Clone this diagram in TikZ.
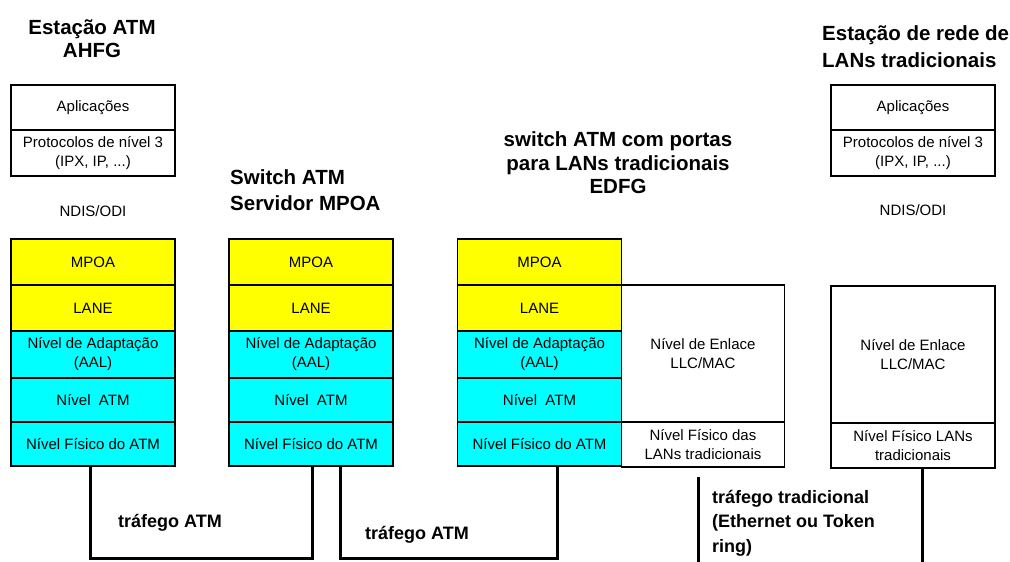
\documentclass[tikz,border=0pt]{standalone}
\usepackage{fontspec}
\setmainfont{Liberation Sans}
\usetikzlibrary{positioning}

\definecolor{amarelo}{RGB}{255,255,0}
\definecolor{ciano}{RGB}{0,255,255}

\tikzset{
  camada/.style={draw, line width=1.1pt, outer sep=0pt, inner sep=0pt,
    minimum width=164, align=center, font=\fontsize{15}{19}\selectfont},
  titulo/.style={inner sep=0pt, font=\bfseries\fontsize{20.5}{23.5}\selectfont},
  rotulo/.style={inner sep=0pt, font=\fontsize{15}{19}\selectfont},
  trafego/.style={line width=3pt},
  trafegotxt/.style={inner sep=0pt, align=left, font=\bfseries\fontsize{18}{24.5}\selectfont}
}

\begin{document}
\begin{tikzpicture}[x=1pt, y=-1pt]

      \useasboundingbox (0,0) rectangle (1010,562);

      % Estacao ATM
      \node[titulo, align=center] (tituloA) at (92,38.5) {Estação ATM\\AHFG};
      \node[camada, minimum height=45, anchor=north] (aplA) at (93,85) {Aplicações};
      \node[camada, minimum height=46, below=0pt of aplA] (protA) {Protocolos de nível 3\\(IPX, IP, ...)};
      \node[rotulo] (ndisA) at (93,211) {NDIS/ODI};
      \node[camada, fill=amarelo, minimum height=46, anchor=north] (mpoaA) at (93,239) {MPOA};
      \node[camada, fill=amarelo, minimum height=46, below=0pt of mpoaA] (laneA) {LANE};
      \node[camada, fill=ciano, minimum height=47, below=0pt of laneA] (aalA) {Nível de Adaptação\\(AAL)};
      \node[camada, fill=ciano, minimum height=44, below=0pt of aalA] (atmA) {Nível~ ATM};
      \node[camada, fill=ciano, minimum height=44, below=0pt of atmA] (fisA) {Nível Físico do ATM};

      % Switch ATM / servidor MPOA
      \node[titulo, align=left, anchor=west] (tituloB) at (230,190) {Switch ATM\\[3pt]Servidor MPOA};
      \node[camada, fill=amarelo, minimum height=46, anchor=north] (mpoaB) at (311,239) {MPOA};
      \node[camada, fill=amarelo, minimum height=46, below=0pt of mpoaB] (laneB) {LANE};
      \node[camada, fill=ciano, minimum height=47, below=0pt of laneB] (aalB) {Nível de Adaptação\\(AAL)};
      \node[camada, fill=ciano, minimum height=44, below=0pt of aalB] (atmB) {Nível~ ATM};
      \node[camada, fill=ciano, minimum height=44, below=0pt of atmB] (fisB) {Nível Físico do ATM};

      % switch ATM com portas para LANs tradicionais
      \node[titulo, align=center] (tituloE) at (618,163) {switch ATM com portas\\para LANs tradicionais\\EDFG};
      \node[camada, fill=amarelo, minimum height=46, anchor=north] (mpoaE) at (539.5,239) {MPOA};
      \node[camada, fill=amarelo, minimum height=46, below=0pt of mpoaE] (laneE) {LANE};
      \node[camada, fill=ciano, minimum height=47, below=0pt of laneE] (aalE) {Nível de Adaptação\\(AAL)};
      \node[camada, fill=ciano, minimum height=44, below=0pt of aalE] (atmE) {Nível~ ATM};
      \node[camada, fill=ciano, minimum height=44, below=0pt of atmE] (fisE) {Nível Físico do ATM};
      \node[camada, minimum width=163, minimum height=137, anchor=north west] (enlaceE) at (mpoaE.south east) {Nível de Enlace\\LLC/MAC};
      \node[camada, minimum width=163, minimum height=45, below=0pt of enlaceE] (fisLanE) {Nível Físico das\\LANs tradicionais};

      % Estacao de LANs tradicionais
      \node[titulo, align=left, anchor=west] (tituloR) at (822,46.5) {Estação de rede de\\[3pt]LANs tradicionais};
      \node[camada, minimum height=45, anchor=north] (aplR) at (913,85) {Aplicações};
      \node[camada, minimum height=46, below=0pt of aplR] (protR) {Protocolos de nível 3\\(IPX, IP, ...)};
      \node[rotulo] (ndisR) at (913,210) {NDIS/ODI};
      \node[camada, minimum height=137, anchor=north] (enlaceR) at (913,286) {Nível de Enlace\\LLC/MAC};
      \node[camada, minimum height=45, below=0pt of enlaceR] (fisR) {Nível Físico LANs\\tradicionais};

      % ligacoes
      \coordinate (fundo) at (0,558);
      \coordinate (margem) at (0,562);
      \coordinate (tradTopo) at (698,477);
      \draw[trafego] ([xshift=-3pt]fisA.south) -- ([xshift=-3pt]fisA.south |- fundo) -| ([xshift=1pt]fisB.south);
      \draw[trafego] ([xshift=29pt]fisB.south) -- ([xshift=29pt]fisB.south |- fundo) -| ([xshift=17.5pt]fisE.south);
      \draw[trafego] (tradTopo) -- (tradTopo |- margem);
      \draw[trafego] ([xshift=9pt]fisR.south) -- ([xshift=9pt]fisR.south |- margem);

      \node[trafegotxt] (trafAB) at (170,523) {tráfego ATM};
      \node[trafegotxt] (trafBE) at (417,535) {tráfego ATM};
      \node[trafegotxt, anchor=west] (trafTrad) at (712,523) {tráfego tradicional\\(Ethernet ou Token\\ring)};

\end{tikzpicture}
\end{document}
